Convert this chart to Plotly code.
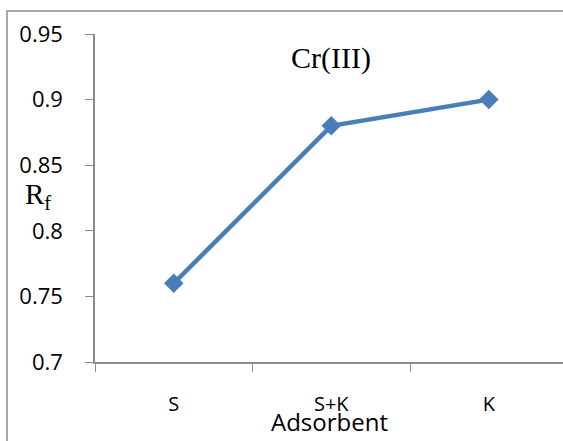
import plotly.graph_objects as go

# Rf values of Cr(III) on each adsorbent
adsorbents = ["S", "S+K", "K"]
rf_values = [0.76, 0.88, 0.90]

y_ticks = [0.7, 0.75, 0.8, 0.85, 0.9, 0.95]

line_color = "#4a7ebb"
axis_color = "#8c8c8c"

fig = go.Figure()
fig.add_trace(go.Scatter(
    x=adsorbents,
    y=rf_values,
    mode="lines+markers",
    line=dict(color=line_color, width=4.5),
    marker=dict(symbol="diamond", size=15, color=line_color),
    showlegend=False,
))

fig.update_layout(
    width=563,
    height=441,
    margin=dict(l=95, r=0, t=34, b=79),
    paper_bgcolor="white",
    plot_bgcolor="white",
    font=dict(family="Open Sans", color="black"),
    xaxis=dict(
        type="category",
        range=[-0.5, 2.471],
        tickson="boundaries",
        ticks="outside",
        ticklen=8,
        tickcolor=axis_color,
        showline=True,
        linecolor=axis_color,
        linewidth=1.5,
        showgrid=False,
        zeroline=False,
        tickfont=dict(size=20, family="Open Sans"),
        ticklabelstandoff=23,
    ),
    yaxis=dict(
        range=[0.7, 0.95],
        tickvals=y_ticks,
        ticktext=[f"{v:g}" for v in y_ticks],
        ticks="outside",
        ticklen=8,
        tickcolor=axis_color,
        showline=True,
        linecolor=axis_color,
        linewidth=1.5,
        showgrid=False,
        zeroline=False,
        tickfont=dict(size=22, family="Open Sans"),
        ticklabelstandoff=18,
    ),
    shapes=[
        dict(type="rect", xref="paper", yref="paper",
             x0=-88 / 468, x1=1.05, y0=-0.4, y1=1 + 23 / 328,
             line=dict(color=axis_color, width=1.5), layer="below"),
    ],
    annotations=[
        dict(text="Cr(III)", xref="x", yref="paper", x=1, y=(362 - 58) / 328,
             xanchor="center", yanchor="middle", showarrow=False,
             font=dict(family="Liberation Serif", size=30, color="black")),
        dict(text="R<sub>f</sub>", xref="paper", yref="paper",
             x=-72 / 468, y=(362 - 196) / 328,
             xanchor="left", yanchor="middle", showarrow=False,
             font=dict(family="Liberation Serif", size=29, color="black")),
        dict(text="Adsorbent", xref="paper", yref="paper",
             x=0.5, y=(362 - 421) / 328,
             xanchor="center", yanchor="middle", showarrow=False,
             font=dict(family="Open Sans", size=24, color="black")),
    ],
)

fig.write_html("out.html")
